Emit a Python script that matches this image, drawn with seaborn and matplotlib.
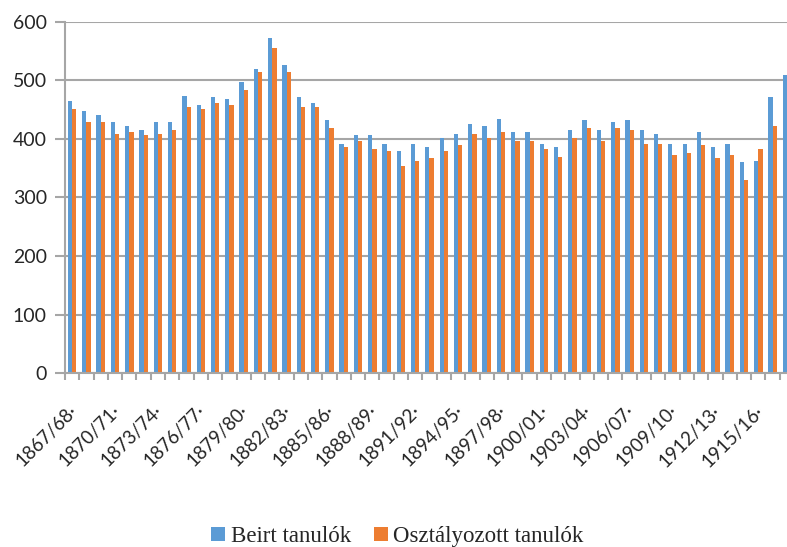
import numpy as np
import pandas as pd
import matplotlib
matplotlib.use('Agg')
import matplotlib.pyplot as plt
import matplotlib.transforms as mtransforms
import seaborn as sns

# tanévek 1867/68 - 1917/18
years = [
    '1867/68·', '1868/69·', '1869/70·', '1870/71·', '1871/72·', '1872/73·',
    '1873/74·', '1874/75·', '1875/76·', '1876/77·', '1877/78·', '1878/79·',
    '1879/80·', '1880/81·', '1881/82·', '1882/83·', '1883/84·', '1884/85·',
    '1885/86·', '1886/87·', '1887/88·', '1888/89·', '1889/90·', '1890/91·',
    '1891/92·', '1892/93·', '1893/94·', '1894/95·', '1895/96·', '1896/97·',
    '1897/98·', '1898/99·', '1899/00·', '1900/01·', '1901/02·', '1902/03·',
    '1903/04·', '1904/05·', '1905/06·', '1906/07·', '1907/08·', '1908/09·',
    '1909/10·', '1910/11·', '1911/12·', '1912/13·', '1913/14·', '1914/15·',
    '1915/16·', '1916/17·', '1917/18·',
]

beirt = [
    465, 448, 441, 429, 422, 415, 429, 429, 474, 458, 471, 468,
    497, 520, 572, 526, 471, 461, 432, 392, 406, 406, 392, 379,
    392, 386, 402, 408, 425, 422, 435, 412, 412, 392, 386, 415,
    432, 415, 429, 432, 415, 408, 392, 392, 412, 386, 392, 360,
    363, 471, 510,
]

osztalyozott = [
    452, 429, 429, 408, 412, 406, 408, 415, 455, 452, 461, 458,
    484, 514, 556, 514, 455, 455, 419, 386, 396, 383, 379, 353,
    363, 367, 379, 389, 408, 402, 412, 396, 396, 383, 369, 402,
    419, 396, 419, 415, 392, 392, 373, 376, 389, 367, 373, 330,
    383, 422, 490,
]

series_names = ['Beirt tanulók', 'Osztályozott tanulók']
colors = ['#5B9BD5', '#ED7D31']

df = pd.DataFrame({'tanev': years, series_names[0]: beirt, series_names[1]: osztalyozott})
long_df = df.melt(id_vars='tanev', var_name='sorozat', value_name='letszam')

sns.set_style('white')
plt.rcParams['font.family'] = ['Lato', 'DejaVu Sans']

fig = plt.figure(figsize=(7.87, 5.47), dpi=100)
# plot area runs a bit past the right edge, as in the original crop
ax = fig.add_axes([65 / 787, 174 / 547, 729 / 787, 351 / 547])

sns.barplot(data=long_df, x='tanev', y='letszam', hue='sorozat',
            palette=colors, width=0.6, saturation=1, linewidth=0, ax=ax)

ax.set_xlim(-0.5, len(years) - 0.5)
ax.set_ylim(0, 600)
ax.set_yticks(range(0, 601, 100))
ax.set_xlabel('')
ax.set_ylabel('')

grey = '#a6a6a6'
ax.yaxis.grid(True, color=grey, linewidth=1.5)
ax.set_axisbelow(True)
for side in ['top', 'right']:
    ax.spines[side].set_visible(False)
for side in ['left', 'bottom']:
    ax.spines[side].set_color(grey)
    ax.spines[side].set_linewidth(1.5)

ax.tick_params(axis='y', left=True, length=7, width=1.5, color=grey,
               labelsize=14, labelcolor='#262626', pad=6)

# every third year labelled, a tick between each group
shown = list(range(0, len(years), 3))
ax.set_xticks(shown)
ax.set_xticklabels([years[i] for i in shown], rotation=45, ha='right',
                   rotation_mode='anchor', fontsize=13.5, color='#262626')
ax.tick_params(axis='x', which='major', length=0, pad=21)
ax.set_xticks(np.arange(-0.5, len(years), 1), minor=True)
ax.tick_params(axis='x', which='minor', bottom=True, length=5, width=1.5,
               color=grey, direction='out')

shift = mtransforms.ScaledTranslation(-0.04, 0, fig.dpi_scale_trans)
for lbl in ax.get_xticklabels():
    lbl.set_transform(lbl.get_transform() + shift)

handles, labels = ax.get_legend_handles_labels()
ax.get_legend().remove()
fig.legend(handles, labels, loc='center', bbox_to_anchor=(0.505, 0.019), ncol=2,
           frameon=False, handlelength=0.6, handleheight=0.6, handletextpad=0.25,
           columnspacing=1.0, prop={'family': 'Liberation Serif', 'size': 16.5})

fig.savefig('out.png', dpi=100)
